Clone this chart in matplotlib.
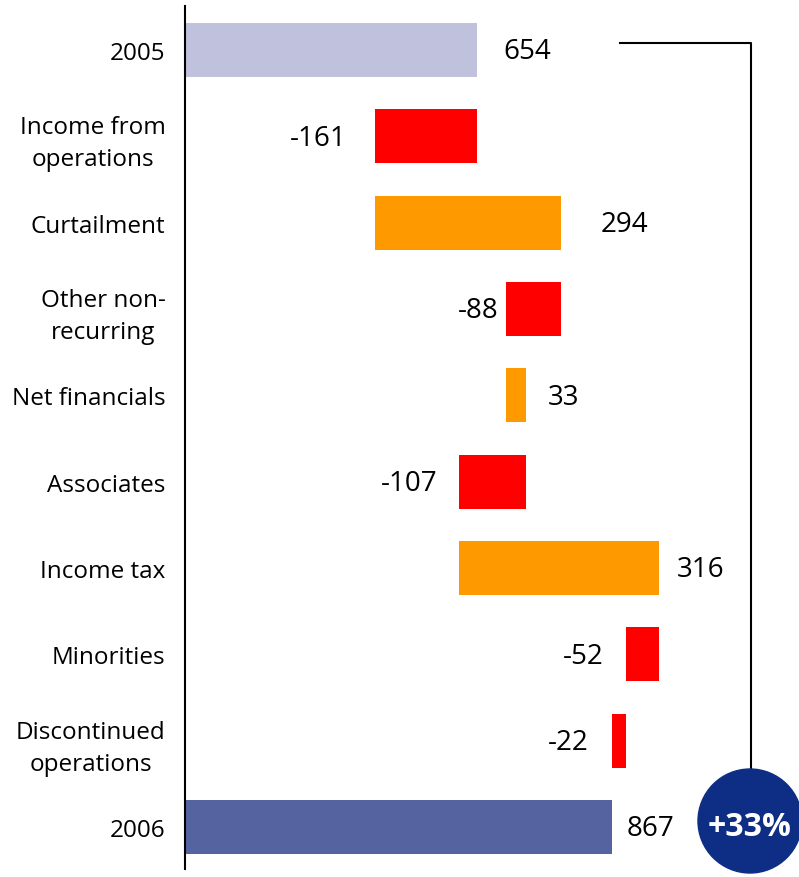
import matplotlib
matplotlib.use("Agg")
import matplotlib.pyplot as plt
from matplotlib.patches import Circle

categories = ["2005", "Income from\noperations", "Curtailment", "Other non-\nrecurring",
              "Net financials", "Associates", "Income tax", "Minorities",
              "Discontinued\noperations", "2006"]
changes = [654, -161, 294, -88, 33, -107, 316, -52, -22, 867]
kinds = ["total", "delta", "delta", "delta", "delta", "delta", "delta", "delta", "delta", "total"]
growth_label = "+33%"

colors = {"start": "#c0c1dd", "neg": "#ff0000", "pos": "#ff9900", "end": "#5563a0"}
label_gap_px = [26, 28, 39, 7, 21, 21, 18, 22, 23, 15]

plt.rcParams["font.family"] = ["Open Sans", "DejaVu Sans"]

W, H, DPI = 799, 878, 100
fig = plt.figure(figsize=(W / DPI, H / DPI), dpi=DPI)

# pixel mapping
x0_px, scale = 62.5, 0.6338  # px for value 0, px per unit
ax_left, ax_right = 185, 799
ax_top, ax_bot = 7, 870
row0, row_step = 51, 86.33

ax = fig.add_axes([ax_left / W, 1 - ax_bot / H, (ax_right - ax_left) / W, (ax_bot - ax_top) / H])
ax.set_xlim((ax_left - x0_px) / scale, (ax_right - x0_px) / scale)
ax.set_ylim((ax_bot - row0) / row_step, (ax_top - row0) / row_step)

running = 0
for i, (c, k) in enumerate(zip(changes, kinds)):
    if k == "total":
        left, width = 0, c
        running = c
        col = colors["start"] if i == 0 else colors["end"]
        side = "right"
    else:
        new = running + c
        left, width = min(running, new), abs(c)
        col = colors["pos"] if c > 0 else colors["neg"]
        side = "right" if c > 0 else "left"
        running = new
    ax.barh(i, width, left=left, height=0.625, color=col, zorder=2)
    gap = label_gap_px[i] * 72 / DPI
    if side == "right":
        ax.annotate(f"{c}", (left + width, i), xytext=(gap, -1), textcoords="offset points",
                    ha="left", va="center", fontsize=20)
    else:
        ax.annotate(f"{c}", (left, i), xytext=(-gap, -1), textcoords="offset points",
                    ha="right", va="center", fontsize=20)

ax.set_yticks(range(len(categories)))
ax.set_yticklabels(categories, fontsize=17.5, linespacing=1.45, multialignment="center")
ax.tick_params(axis="y", length=0, pad=14)
for lab in ax.get_yticklabels():
    lab.set_y(lab.get_position()[1])
ax.set_xticks([])
for s in ["top", "right", "bottom"]:
    ax.spines[s].set_visible(False)
ax.spines["left"].set_linewidth(1.5)

# connector line and growth bubble (figure pixel coords)
def fx(px):
    return px / W
def fy(py):
    return 1 - py / H

fig.add_artist(plt.Line2D([fx(620), fx(751), fx(751)], [fy(44), fy(44), fy(775)],
                          color="black", lw=1.5))
fig.add_artist(Circle((750 / DPI, (H - 822) / DPI), 52 / DPI, transform=fig.dpi_scale_trans,
                      color="#0e2d84", zorder=5))
fig.text(fx(750), fy(828), growth_label, color="white", fontsize=23, fontweight="bold",
         ha="center", va="center", zorder=6)

fig.savefig("out.png", dpi=DPI)
